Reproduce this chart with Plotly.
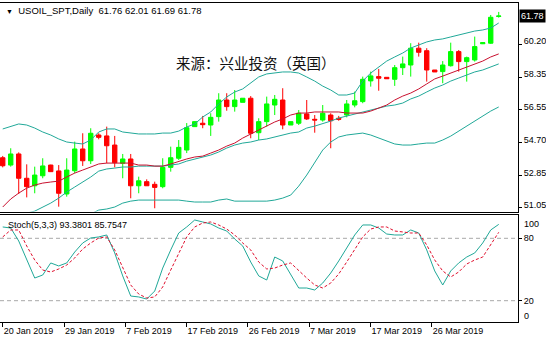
import plotly.graph_objects as go

# ---------------- data ----------------
dates = ([f"2019-01-{d:02d}" for d in (20, 21, 22, 23, 24, 25, 27, 28, 29, 30, 31)]
         + [f"2019-02-{d:02d}" for d in (1, 3, 4, 5, 6, 7, 8, 10, 11, 12, 13, 14, 15, 17, 18, 19, 20, 21, 22, 24, 25, 26, 27, 28)]
         + [f"2019-03-{d:02d}" for d in (1, 3, 4, 5, 6, 7, 8, 10, 11, 12, 13, 14, 15, 17, 18, 19, 20, 21, 22, 24, 25, 26, 27, 28, 29, 31)]
         + [f"2019-04-{d:02d}" for d in (1, 2)])

opens = [53.85, 53.44, 54.06, 52.70, 52.28, 52.84, 53.44, 53.11, 51.82, 53.12,
         54.34, 53.68, 55.12, 55.07, 54.56, 53.54, 53.78, 52.28, 52.51, 52.36,
         52.23, 53.31, 53.82, 54.28, 55.59, 55.78, 55.68, 56.15, 57.08, 56.71,
         56.95, 57.18, 55.25, 55.87, 56.80, 57.08, 55.68, 55.78, 56.30, 56.00,
         55.96, 56.24, 56.06, 56.24, 56.80, 56.99, 58.15, 58.39, 58.35, 58.24,
         58.89, 59.04, 59.98, 59.84, 58.76, 58.67, 59.00, 59.79, 59.23, 59.32,
         60.23, 60.26, 61.76]
highs = [53.95, 54.38, 54.15, 53.48, 53.35, 53.82, 53.46, 53.44, 53.82, 54.75,
         55.22, 55.50, 55.22, 55.59, 55.07, 54.06, 54.06, 52.79, 52.64, 52.51,
         53.82, 54.47, 54.84, 55.79, 55.90, 56.19, 56.34, 57.46, 57.46, 57.64,
         57.18, 57.30, 56.06, 57.27, 57.36, 57.74, 55.87, 56.52, 57.08, 56.24,
         56.80, 56.34, 56.19, 57.08, 57.55, 58.39, 58.67, 58.82, 58.35, 59.04,
         59.51, 60.26, 60.29, 59.98, 58.76, 59.26, 60.29, 59.88, 59.51, 60.63,
         60.31, 61.84, 62.01]
lows = [53.31, 53.35, 51.82, 51.63, 51.86, 52.70, 53.05, 51.11, 51.67, 52.98,
        53.39, 53.50, 54.88, 53.54, 53.31, 52.70, 51.58, 51.86, 52.28, 51.02,
        52.14, 53.07, 53.72, 54.11, 55.57, 55.50, 55.07, 55.87, 56.48, 56.43,
        56.95, 54.94, 54.84, 55.59, 56.24, 55.44, 55.68, 55.68, 55.96, 55.25,
        55.87, 54.38, 55.92, 56.11, 56.67, 56.90, 57.83, 57.60, 58.27, 57.87,
        58.48, 58.39, 59.51, 58.11, 58.65, 58.02, 58.95, 58.67, 58.11, 59.23,
        60.21, 60.22, 61.69]
closes = [53.40, 54.06, 52.70, 52.23, 52.88, 53.39, 53.07, 51.86, 53.16, 54.34,
          53.68, 55.22, 54.99, 54.52, 53.57, 53.78, 52.28, 52.56, 52.28, 52.19,
          53.31, 53.85, 54.43, 55.53, 55.87, 55.70, 56.11, 57.08, 56.71, 57.08,
          57.18, 55.22, 55.87, 56.86, 57.12, 55.68, 55.87, 56.34, 56.02, 55.96,
          56.34, 55.92, 56.00, 56.86, 57.04, 58.24, 58.43, 58.30, 58.27, 58.89,
          59.10, 59.98, 59.75, 58.76, 58.65, 59.04, 59.79, 59.23, 59.45, 60.07,
          60.29, 61.71, 61.78]

bb_upper = [55.46, 55.62, 55.74, 55.68, 55.51, 55.29, 55.12, 54.90, 54.73, 54.67,
            54.62, 54.84, 55.29, 55.46, 55.46, 55.29, 55.23, 55.18, 55.18, 55.18,
            55.23, 55.23, 55.34, 55.57, 55.74, 56.13, 56.41, 56.86, 57.25, 57.53,
            57.70, 58.03, 58.37, 58.54, 58.59, 58.65, 58.65, 58.59, 58.37, 58.14,
            57.86, 57.64, 57.36, 57.36, 57.47, 58.14, 58.59, 58.93, 59.26, 59.49,
            59.71, 59.99, 60.16, 60.33, 60.44, 60.50, 60.61, 60.72, 60.83, 60.94,
            61.00, 61.11, 61.39]
bb_mid = [50.14, 50.36, 50.58, 50.75, 50.86, 51.09, 51.31, 51.59, 51.93, 52.21,
          52.49, 52.77, 53.10, 53.22, 53.27, 53.33, 53.33, 53.38, 53.38, 53.38,
          53.38, 53.44, 53.50, 53.66, 53.78, 53.89, 54.00, 54.17, 54.39, 54.56,
          54.67, 54.73, 54.84, 54.90, 55.01, 55.12, 55.23, 55.29, 55.51, 55.62,
          55.74, 55.90, 56.07, 56.18, 56.30, 56.41, 56.52, 56.63, 56.74, 56.80,
          56.91, 57.14, 57.30, 57.53, 57.75, 57.92, 58.14, 58.31, 58.48, 58.65,
          58.76, 58.93, 59.10]
bb_lower = [44.82, 45.10, 45.43, 45.82, 46.22, 46.89, 47.50, 48.29, 49.13, 49.74,
            50.36, 50.70, 50.92, 50.98, 51.09, 51.31, 51.42, 51.48, 51.48, 51.48,
            51.48, 51.48, 51.48, 51.42, 51.37, 51.37, 51.37, 51.48, 51.54, 51.42,
            51.42, 51.42, 51.42, 51.42, 51.48, 51.59, 51.76, 52.26, 52.88, 53.55,
            54.28, 54.73, 55.01, 55.12, 55.18, 55.23, 55.12, 54.95, 54.78, 54.62,
            54.56, 54.56, 54.62, 54.67, 54.67, 54.84, 55.06, 55.34, 55.62, 55.90,
            56.18, 56.46, 56.69]
ma_red = [51.09, 51.54, 51.87, 52.15, 52.32, 52.43, 52.49, 52.54, 52.77, 52.99,
          53.16, 53.33, 53.50, 53.55, 53.55, 53.55, 53.55, 53.44, 53.44, 53.38,
          53.38, 53.50, 53.66, 53.78, 53.89, 53.94, 54.11, 54.28, 54.50, 54.67,
          54.95, 55.18, 55.40, 55.62, 55.85, 56.02, 56.24, 56.35, 56.35, 56.41,
          56.41, 56.41, 56.41, 56.35, 56.35, 56.35, 56.46, 56.63, 56.80, 57.08,
          57.30, 57.47, 57.70, 57.98, 58.26, 58.42, 58.59, 58.76, 58.93, 59.10,
          59.26, 59.49, 59.66]

stoch_k = [90.9, 89.9, 77.4, 60.1, 41.8, 44.7, 56.3, 53.4, 56.3, 66.8,
           75.5, 80.3, 81.3, 83.2, 65.9, 43.8, 24.5, 23.6, 21.6, 29.3,
           51.4, 68.8, 85.1, 90.9, 97.6, 95.7, 93.8, 89.9, 87.0, 79.3,
           72.6, 57.2, 43.8, 39.9, 62.0, 58.2, 44.7, 32.2, 32.2, 30.3,
           37.0, 46.6, 58.2, 70.7, 83.2, 92.8, 92.8, 89.9, 84.1, 83.2,
           83.2, 88.0, 85.1, 68.8, 48.6, 35.1, 48.6, 56.3, 62.0, 65.9,
           75.5, 88.0, 93.3801]
stoch_d = [81.3, 88.0, 88.0, 72.6, 59.1, 49.5, 47.6, 50.5, 54.3, 61.1,
           69.7, 75.5, 80.3, 81.3, 68.8, 52.4, 35.1, 26.4, 22.6, 23.6,
           33.2, 49.5, 65.9, 81.3, 90.9, 94.7, 95.7, 92.8, 88.9, 83.2,
           75.5, 68.8, 57.2, 50.5, 51.4, 54.3, 56.3, 48.6, 41.8, 35.1,
           32.2, 37.0, 45.7, 57.2, 68.8, 81.3, 88.9, 90.9, 90.9, 87.0,
           86.1, 85.1, 85.1, 73.6, 59.1, 48.6, 42.8, 47.6, 55.3, 59.1,
           62.0, 73.6, 85.7547]

price_ticks = [51.05, 52.85, 54.70, 56.55, 58.35, 60.20]
stoch_levels = [20, 80]
date_labels = ["20 Jan 2019", "29 Jan 2019", "7 Feb 2019", "17 Feb 2019",
               "26 Feb 2019", "7 Mar 2019", "17 Mar 2019", "26 Mar 2019"]
symbol = "USOIL_SPT,Daily"
source_text = "来源：兴业投资（英国）"

# ---------------- layout constants ----------------
W, H = 546, 337
PLOT_R = 518 / W
FONT = "Liberation Sans, Arial, sans-serif"
TEAL = "#20A898"
MA_RED = "#C8102E"
BULL, BEAR = "#00FF00", "#FF0000"
X_RANGE = [-0.34, 64.41]
LABEL_STEP = 7.66  # bars between time-scale labels (fixed pixel grid)

def py(px):  # pixel-from-top -> paper
    return 1 - px / H

fig = go.Figure()
fig.add_trace(go.Candlestick(
    x=dates, open=opens, high=highs, low=lows, close=closes,
    increasing=dict(line=dict(color=BULL, width=1), fillcolor=BULL),
    decreasing=dict(line=dict(color=BEAR, width=1), fillcolor=BEAR),
    whiskerwidth=0, xaxis="x", yaxis="y", showlegend=False, hoverinfo="skip"))
for ser, col in ((bb_upper, TEAL), (bb_mid, TEAL), (bb_lower, TEAL), (ma_red, MA_RED)):
    fig.add_trace(go.Scatter(x=dates, y=ser, mode="lines", line=dict(color=col, width=1),
                             xaxis="x", yaxis="y", showlegend=False, hoverinfo="skip"))
fig.add_trace(go.Scatter(x=dates, y=stoch_k, mode="lines", line=dict(color=TEAL, width=1),
                         xaxis="x2", yaxis="y2", showlegend=False, hoverinfo="skip"))
fig.add_trace(go.Scatter(x=dates, y=stoch_d, mode="lines",
                         line=dict(color="#E0102E", width=1, dash="3px,2px"),
                         xaxis="x2", yaxis="y2", showlegend=False, hoverinfo="skip"))

axis_common = dict(showline=True, mirror=True, linecolor="black", linewidth=1,
                   showgrid=False, zeroline=False, fixedrange=True)

fig.update_layout(
    width=W, height=H, margin=dict(l=0, r=0, t=0, b=0),
    paper_bgcolor="white", plot_bgcolor="white", showlegend=False,
    boxgap=0.45, boxgroupgap=0,
    font=dict(family=FONT, size=9, color="black"),
    xaxis=dict(domain=[0, PLOT_R], anchor="y", type="category", range=X_RANGE,
               showticklabels=False, ticks="", rangeslider=dict(visible=False), **axis_common),
    yaxis=dict(domain=[py(211.5), py(3)], anchor="x", range=[50.84, 62.51], side="right",
               tickvals=price_ticks, ticktext=[f"{v:.2f}" for v in price_ticks],
               ticks="outside", ticklen=3, tickcolor="black", ticklabelshift=-3,
               tickfont=dict(family=FONT, size=9, color="black"), **axis_common),
    xaxis2=dict(domain=[0, PLOT_R], anchor="y2", type="category", range=X_RANGE,
                tickvals=[k * LABEL_STEP for k in range(len(date_labels))],
                ticktext=date_labels, ticks="outside", ticklen=4, tickcolor="black",
                ticklabelposition="outside right",
                tickfont=dict(family=FONT, size=9, color="black"), **axis_common),
    yaxis2=dict(domain=[py(322), py(215)], anchor="x2", range=[-0.48, 102.4], side="right",
                tickvals=stoch_levels, ticktext=[str(v) for v in stoch_levels],
                ticks="outside", ticklen=3, tickcolor="black",
                tickfont=dict(family=FONT, size=9, color="black"), **axis_common),
)

shapes = []
for lv in stoch_levels:
    shapes.append(dict(type="line", xref="paper", yref="y2", x0=0, x1=PLOT_R, y0=lv, y1=lv,
                       line=dict(color="#A8A8A8", width=1, dash="4px,3px"), layer="below"))
fig.update_layout(shapes=shapes)

ohlc_txt = " ".join(f"{v:.2f}" for v in (opens[-1], highs[-1], lows[-1], closes[-1]))
ann = [
    dict(xref="paper", yref="paper", x=4 / W, y=py(10), xanchor="left", yanchor="middle",
         showarrow=False, align="left",
         text=f"<span style='font-size:7px'>▼</span>\u00a0\u00a0{symbol}\u00a0\u00a0{ohlc_txt}",
         font=dict(family=FONT, size=9.5, color="black")),
    dict(xref="paper", yref="paper", x=256 / W, y=py(62), xanchor="center", yanchor="middle",
         showarrow=False, text=source_text,
         font=dict(family="Noto Sans CJK SC", size=14.5, color="#111111")),
    dict(xref="paper", yref="paper", x=6 / W, y=py(225), xanchor="left", yanchor="middle",
         showarrow=False, text=f"Stoch(5,3,3) {stoch_k[-1]:.4f} {stoch_d[-1]:.4f}",
         font=dict(family=FONT, size=9, color="black")),
    dict(xref="paper", yref="y", x=1, y=closes[-1], xanchor="right", yanchor="middle",
         showarrow=False, text=f"{closes[-1]:.2f}", bgcolor="black", borderpad=1,
         font=dict(family=FONT, size=9, color="white")),
    dict(xref="paper", yref="y2", x=522 / W, y=100, xanchor="left", yanchor="middle",
         yshift=-6, showarrow=False, text="100", font=dict(family=FONT, size=9, color="black")),
    dict(xref="paper", yref="y2", x=522 / W, y=0, xanchor="left", yanchor="middle",
         yshift=5.5, showarrow=False, text="0", font=dict(family=FONT, size=9, color="black")),
]
fig.update_layout(annotations=ann)

fig.write_html("out.html")
